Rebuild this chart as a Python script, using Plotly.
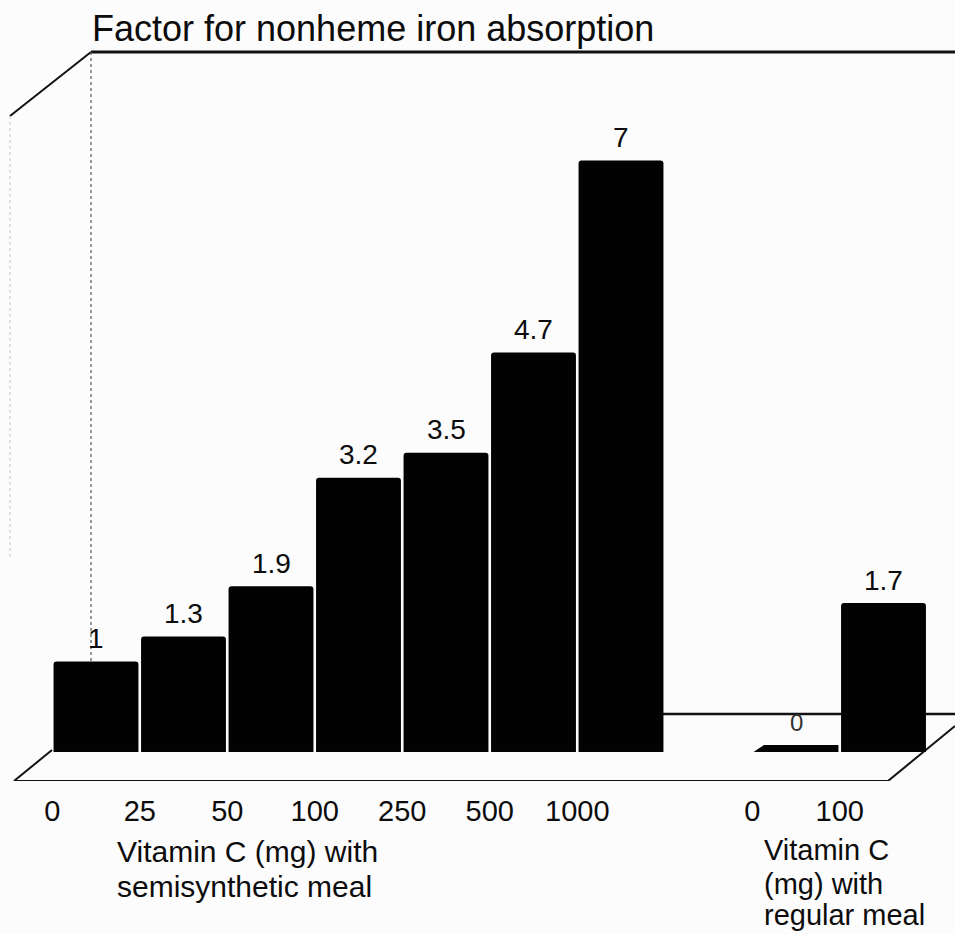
import plotly.graph_objects as go

title = "Factor for nonheme iron absorption"
positions = [0, 1, 2, 3, 4, 5, 6, 8, 9]
dose_labels = ["0", "25", "50", "100", "250", "500", "1000", "0", "100"]
factors = [1, 1.3, 1.9, 3.2, 3.5, 4.7, 7, 0, 1.7]
factor_labels = ["1", "1.3", "1.9", "3.2", "3.5", "4.7", "7", "0", "1.7"]
caption_left = ["Vitamin C (mg) with", "semisynthetic meal"]
caption_right = ["Vitamin C", "(mg) with", "regular meal"]

W, H = 955, 934
STEP, X0 = 87.5, 96
UNIT, Y0, AXIS_Y, FLOOR_Y = 83.5, 745, 781, 752
BAR_W = 0.97
FONT = "Liberation Sans, Arial, sans-serif"
INK = "#0c0c0c"


def px(x):
    return (x - X0) / STEP


def py(y):
    return (Y0 - y) / UNIT


fig = go.Figure()
fig.add_trace(go.Bar(
    x=positions, y=factors, width=BAR_W,
    marker=dict(color="#020202", line_width=0, cornerradius=3),
    hoverinfo="skip",
))

line = lambda a, b, c, d, w=2.4, col="#111111", dash="solid": dict(
    type="line", x0=px(a), x1=px(c), y0=py(b), y1=py(d), layer="below",
    line=dict(color=col, width=w, dash=dash))
shapes = [
    line(91, 52, 955, 52, 3),
    line(91, 52, 10, 116, 2),
    line(91, 52, 91, 752, 1.2, "#555555", "dot"),
    line(10, 116, 10, 560, 1, "#c4c4c4", "dot"),
    line(52, 750, 14, 781, 2),
    line(14, 781, 888, 781, 2),
    line(888, 781, 955, 726, 2),
    line(660, 714, 955, 714, 2.6),
]
# Front lip of every 3-D bar, below the zero level of the value scale
for p, f in zip(positions, factors):
    a, b = p - BAR_W / 2, p + BAR_W / 2
    inset = 0.12 if f == 0 else 0
    shapes.append(dict(
        type="path", layer="above", line_width=0, fillcolor="#030303",
        path=f"M {a} {py(FLOOR_Y)} L {b} {py(FLOOR_Y)} L {b} 0 L {a + inset} 0 Z"))

annotations = []
for p, f, t in zip(positions, factors, factor_labels):
    annotations.append(dict(
        text=t, x=p, y=f, yshift=23, showarrow=False, yanchor="middle",
        font=dict(family=FONT, size=24 if f == 0 else 28, color="#333333" if f == 0 else INK)))


def caption(lines, x, ys, size):
    return [dict(text=t, xref="paper", yref="paper", x=x / W, y=(AXIS_Y - yy) / AXIS_Y,
                 xanchor="left", yanchor="middle", align="left", showarrow=False,
                 font=dict(family=FONT, size=size, color=INK))
            for t, yy in zip(lines, ys)]


annotations += caption(caption_left, 115, [852, 887], 30)
annotations += caption(caption_right, 762, [850, 884, 915], 29)

fig.update_layout(
    width=W, height=H, autosize=False, showlegend=False,
    paper_bgcolor="#fcfcfc", plot_bgcolor="rgba(0,0,0,0)",
    margin=dict(l=0, r=0, t=0, b=H - AXIS_Y),
    title=dict(text=title, x=92 / W, xanchor="left", y=1 - 28 / H, yanchor="middle",
               font=dict(family=FONT, size=36, color=INK)),
    xaxis=dict(range=[px(0), px(W)], tickmode="array",
               tickvals=[p - 0.5 for p in positions], ticktext=dose_labels,
               showgrid=False, zeroline=False, showline=False, ticks="outside",
               ticklen=4, tickcolor="rgba(0,0,0,0)",
               tickfont=dict(family=FONT, size=29, color=INK)),
    yaxis=dict(range=[py(AXIS_Y), py(0)], visible=False),
    shapes=shapes, annotations=annotations,
)
fig.write_html("out.html", config={"displayModeBar": False},
               post_script="document.body.style.margin='0';document.body.style.overflow='hidden';document.body.style.background='#fcfcfc';")
